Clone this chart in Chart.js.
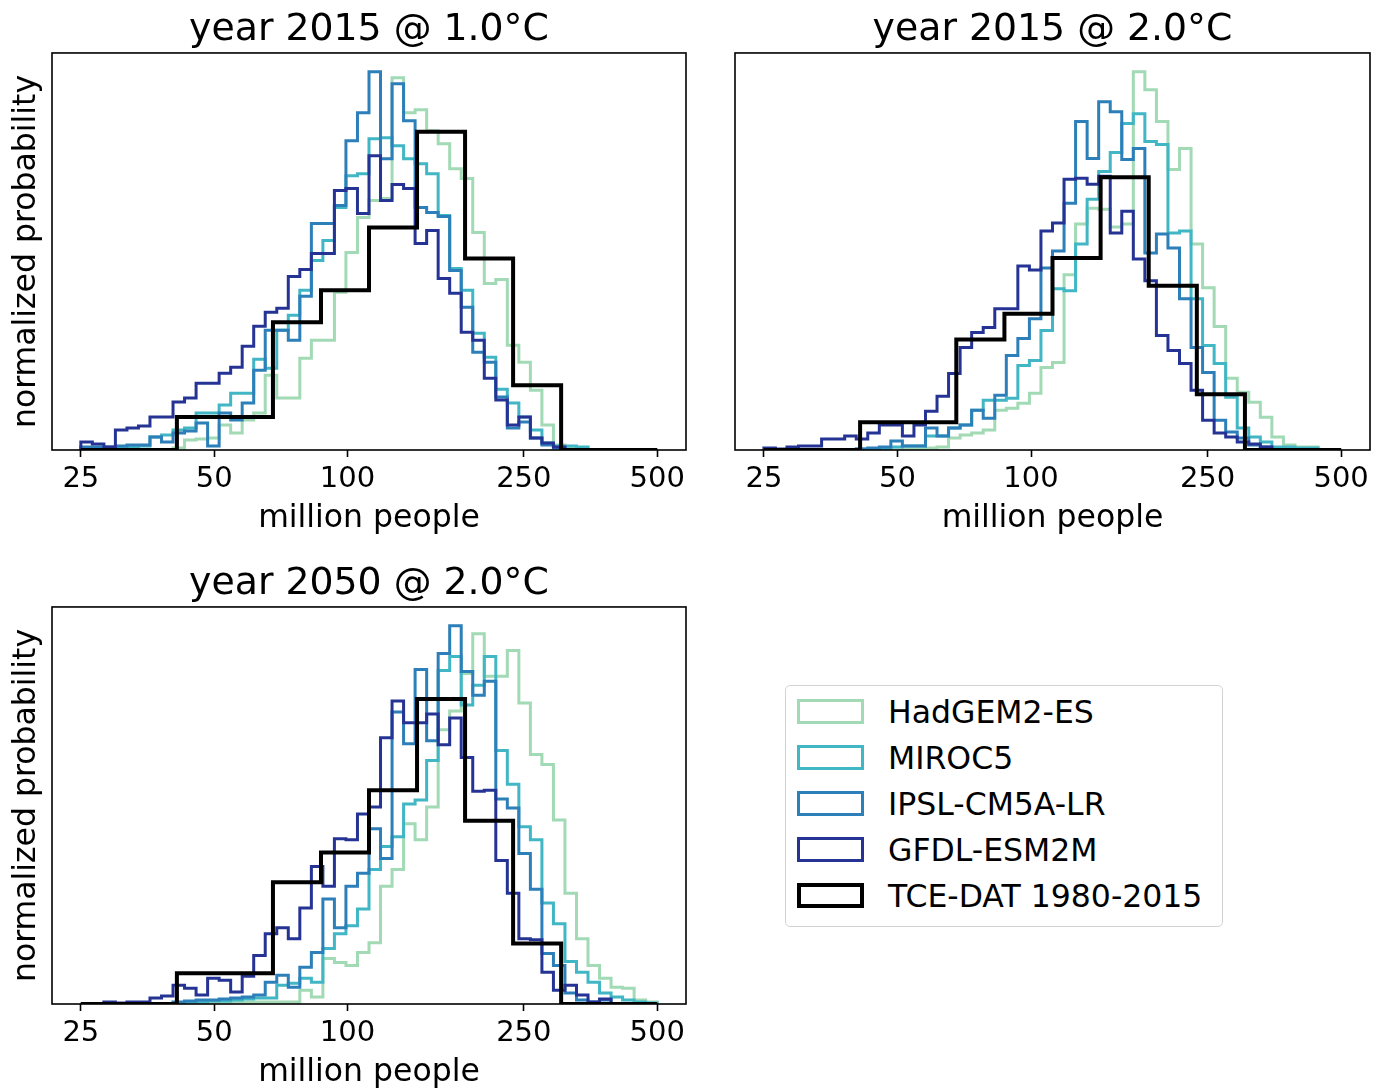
<!DOCTYPE html>
<html>
<head>
<meta charset="utf-8">
<title>Exposed population histograms</title>
<script src="https://cdn.jsdelivr.net/npm/chart.js@4.4.1/dist/chart.umd.min.js"></script>
<style>
  html, body { margin: 0; padding: 0; background: #fff; overflow: hidden; }
  body { width: 1386px; height: 1089px; position: relative; font-family: 'DejaVu Sans', sans-serif; }
  canvas { position: absolute; }
  #legend { position: absolute; left: 785px; top: 685px; width: 436px; height: 240px;
            border: 1.5px solid #d3d3d3; border-radius: 5px; background: #fff; }
  .row { position: absolute; left: 0; width: 100%; height: 46px; }
  .patch { position: absolute; left: 11px; top: 10px; width: 67px; height: 25px; box-sizing: border-box; background: #fff; }
  .lbl { position: absolute; left: 102px; top: 0; font-size: 31.5px; line-height: 46px; white-space: nowrap; color: #000; }
</style>
</head>
<body>
<canvas id="p1" width="738" height="540" style="left:0px;top:0px"></canvas>
<canvas id="p2" width="739" height="540" style="left:683px;top:0px"></canvas>
<canvas id="p3" width="738" height="540" style="left:0px;top:554px"></canvas>
<div id="legend"></div>
<script>
// bin edges (million people), 50 model bins and 12 TCE-DAT bins, log spaced 25..500
const modelEdges = [25.00, 26.54, 28.18, 29.92, 31.77, 33.73, 35.81, 38.02, 40.37, 42.86,
  45.51, 48.32, 51.30, 54.47, 57.83, 61.40, 65.19, 69.22, 73.49, 78.03,
  82.86, 87.97, 93.40, 99.17, 105.29, 111.80, 118.70, 126.03, 133.81, 142.07,
  150.86, 160.16, 170.05, 180.55, 191.70, 203.55, 216.11, 229.45, 243.62, 258.66,
  274.64, 291.59, 309.59, 328.71, 349.01, 370.57, 393.44, 417.74, 443.53, 470.92, 500.00];
const tceEdges = [25.00, 32.09, 41.19, 52.87, 67.86, 87.11, 111.80, 143.51, 184.20, 236.44, 303.49, 389.56, 500.00];
const xTicks = [25, 50, 100, 250, 500];

const seriesNames = ['HadGEM2-ES', 'MIROC5', 'IPSL-CM5A-LR', 'GFDL-ESM2M', 'TCE-DAT 1980-2015'];
const seriesColors = ['#a1dab4', '#41b6c4', '#2c7fb8', '#253494', '#000000'];

// year 2015 @ 1.0°C
const had_2015_1 = [0,0,0,0,0,0,0,0, 2,10,11,12,25,17,30,37, 75,52,52,92,110,110,158,198,
  233,250,252,373,338,341,320,307, 282,272,218,167,171,105,88,60, 25,5,3,2,0,0,0,0,0,0];
const miroc_2015_1 = [2,2,2,3,3,4,13,15, 20,22,37,37,45,57,57,91, 82,120,135,160,190,210,243,275,
  277,312,313,305,292,287,277,235, 182,160,117,93,61,47,33,20, 7,4,4,3,0,0,0,0,0,0];
const ipsl_2015_1 = [3,3,3,4,5,5,13,8, 17,19,27,4,37,30,47,80, 120,120,110,154,227,227,245,310,
  338,379,292,367,330,243,238,234, 180,143,98,88,53,22,28,12, 5,2,0,0,0,0,0,0,0,0];
const gfdl_2015_1 = [8,6,3,20,22,24,33,33, 48,52,67,67,77,83,104,124, 138,142,174,181,197,197,260,262,
  237,295,250,266,262,207,220,172, 157,118,110,72,50,25,33,12, 7,3,0,0,0,0,0,0,0,0];
const tce_2015_1 = [0,0,33,33,128,160,223,319,192,65,0,0];

// year 2015 @ 2.0°C
const had_2015_2 = [0,0,0,0,0,0,0,0, 0,0,0,0,1,1,2,3, 12,15,17,20,40,42,47,57,
  83,88,176,227,243,242,224,227, 380,362,330,282,303,207,163,124, 72,58,48,33,13,5,3,3,0,0];
const miroc_2015_2 = [0,0,0,0,0,0,0,0, 1,1,1,3,4,4,14,14, 22,25,40,50,50,52,85,90,
  120,162,160,207,252,280,299,328, 338,310,307,218,220,152,105,87, 53,22,13,8,3,3,2,2,0,0];
const ipsl_2015_2 = [0,0,0,0,0,0,0,0, 1,2,3,9,4,4,22,14, 22,25,40,32,55,95,112,132,
  183,200,248,330,293,350,340,292, 303,198,217,203,152,103,78,30, 18,12,5,3,0,0,0,0,0,0];
const gfdl_2015_2 = [2,1,3,4,4,11,11,14, 11,17,25,25,14,25,39,54, 77,103,118,123,142,142,185,181,
  220,228,272,273,267,275,218,240, 192,170,115,100,87,60,30,17, 13,8,6,3,0,0,0,0,0,0];
const tce_2015_2 = [0,0,28,28,111,137,193,274,165,56,0,0];

// year 2050 @ 2.0°C
const had_2050_2 = [0,0,0,0,0,0,0,0, 0,0,1,1,2,2,2,2, 2,2,2,14,7,46,42,39,
  52,62,119,136,182,166,199,277, 296,334,374,331,331,357,304,252, 242,186,112,66,39,26,17,16,4,2];
const miroc_2050_2 = [0,0,0,0,0,0,0,0, 1,2,2,3,3,4,5,6, 6,19,21,26,22,56,71,79,
  96,136,159,169,202,206,246,337, 351,302,322,351,256,222,179,166, 102,81,43,32,22,11,7,4,2,1];
const ipsl_2050_2 = [0,0,0,0,0,0,0,0, 2,3,4,4,5,6,7,9, 22,29,17,37,52,106,77,119,
  132,177,147,295,263,338,266,354, 382,336,312,326,207,198,152,116, 51,39,11,4,2,4,0,0,0,0];
const gfdl_2050_2 = [0,0,2,1,2,2,6,8, 19,16,9,26,24,12,28,49, 71,77,66,97,139,119,167,166,
  192,199,269,306,284,284,293,262, 289,249,215,216,145,112,66,65, 32,14,19,9,2,5,0,0,0,0];
const tce_2050_2 = [0,0,31,31,123,153,216,308,185,61,0,0];

Chart.defaults.font.family = "'DejaVu Sans', sans-serif";
Chart.defaults.color = '#000';

// histogram outline: one point per bin left edge, closed down to zero at both ends
function stepPoints(edges, heights) {
  const pts = [{x: edges[0], y: 0}];
  heights.forEach((h, i) => pts.push({x: edges[i], y: h}));
  pts.push({x: edges[edges.length - 1], y: 0});
  return pts;
}

// box around the axes, like matplotlib spines
const frame = {
  id: 'frame',
  afterDatasetsDraw(chart) {
    const {ctx, chartArea: a} = chart;
    ctx.save();
    ctx.strokeStyle = '#000';
    ctx.lineWidth = 1.6;
    ctx.strokeRect(a.left, a.top, a.right - a.left, a.bottom - a.top);
    ctx.restore();
  }
};

function makePanel(id, title, models, tce, showYLabel) {
  const peak = Math.max(...models.flat(), ...tce);
  const datasets = models.map((h, i) => ({
    label: seriesNames[i],
    data: stepPoints(modelEdges, h),
    borderColor: seriesColors[i],
    borderWidth: 3,
    order: 4 - i
  }));
  datasets.push({
    label: seriesNames[4],
    data: stepPoints(tceEdges, tce),
    borderColor: seriesColors[4],
    borderWidth: 4,
    order: 0
  });

  new Chart(document.getElementById(id), {
    type: 'line',
    data: { datasets: datasets },
    options: {
      responsive: false,
      animation: false,
      datasets: {
        line: { stepped: true, pointRadius: 0, fill: false, tension: 0, borderJoinStyle: 'miter' }
      },
      layout: { padding: { top: 7, left: 0, right: 0, bottom: 0 } },
      plugins: {
        legend: { display: false },
        tooltip: { enabled: false },
        title: {
          display: true,
          text: title,
          color: '#000',
          font: { size: 37.8, weight: 'normal' },
          padding: { top: 0, bottom: 0.6 }
        }
      },
      scales: {
        x: {
          type: 'logarithmic',
          min: 21.52,
          max: 580.8,
          afterBuildTicks: s => { s.ticks = xTicks.map(v => ({ value: v })); },
          afterFit: s => { s.height = 90; },
          ticks: { callback: v => String(v), font: { size: 29 }, color: '#000', padding: 5, autoSkip: false, maxRotation: 0 },
          grid: { display: true, drawOnChartArea: false, drawTicks: true, tickLength: 7, tickColor: '#000', tickWidth: 1.6 },
          border: { display: false },
          title: { display: true, text: 'million people', color: '#000', font: { size: 31.5 }, padding: { top: 0, bottom: 2 } }
        },
        y: {
          min: 0,
          max: peak * 1.05,
          afterFit: s => { s.width = 52; },
          ticks: { display: false },
          grid: { display: false },
          border: { display: false },
          title: { display: showYLabel, text: 'normalized probability', color: '#000', font: { size: 31.5 }, padding: { top: 8, bottom: 0 } }
        },
        // empty right axis, same width as the left one, keeps the title centred on the axes
        y2: {
          position: 'right',
          display: true,
          afterFit: s => { s.width = 52; },
          ticks: { display: false },
          grid: { display: false },
          border: { display: false }
        }
      }
    },
    plugins: [frame]
  });
}

makePanel('p1', 'year 2015 @ 1.0°C', [had_2015_1, miroc_2015_1, ipsl_2015_1, gfdl_2015_1], tce_2015_1, true);
makePanel('p2', 'year 2015 @ 2.0°C', [had_2015_2, miroc_2015_2, ipsl_2015_2, gfdl_2015_2], tce_2015_2, false);
makePanel('p3', 'year 2050 @ 2.0°C', [had_2050_2, miroc_2050_2, ipsl_2050_2, gfdl_2050_2], tce_2050_2, true);

// legend (separate box in the empty fourth slot)
const legend = document.getElementById('legend');
seriesNames.forEach((name, i) => {
  const row = document.createElement('div');
  row.className = 'row';
  row.style.top = (2.5 + i * 46) + 'px';
  const patch = document.createElement('div');
  patch.className = 'patch';
  patch.style.border = (i === 4 ? 4 : 3) + 'px solid ' + seriesColors[i];
  const lbl = document.createElement('div');
  lbl.className = 'lbl';
  lbl.textContent = name;
  row.appendChild(patch);
  row.appendChild(lbl);
  legend.appendChild(row);
});
</script>
</body>
</html>
